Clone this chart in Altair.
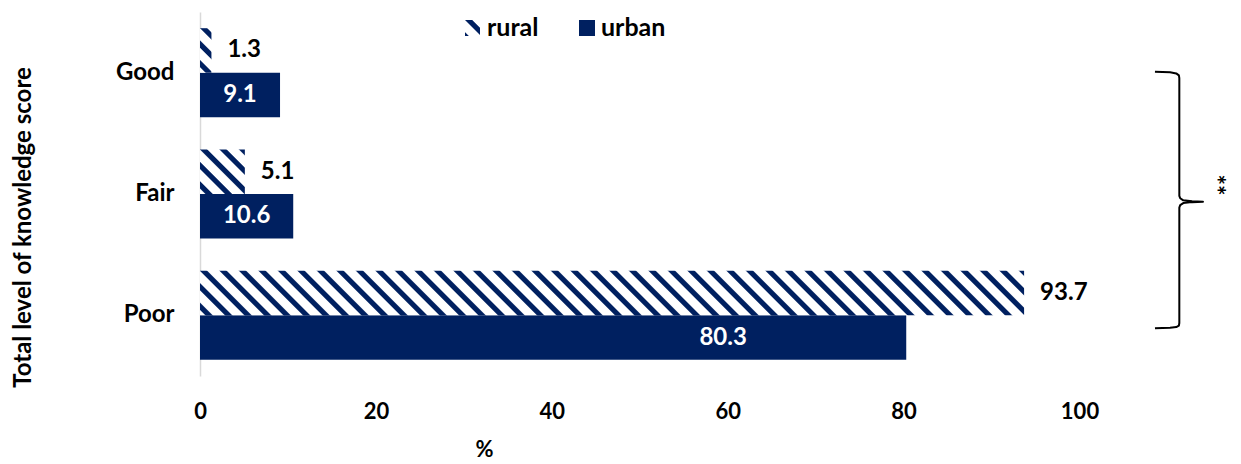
import math
import altair as alt
import pandas as pd

# ---------------- data ----------------
categories = ["Good", "Fair", "Poor"]
series = ["rural", "urban"]
rural = [1.3, 5.1, 93.7]
urban = [9.1, 10.6, 80.3]
x_ticks = [0, 20, 40, 60, 80, 100]

# brace annotation (x in % units, y in category-step units from top)
brace_x = [108.58, 110.3, 111.0, 111.3, 111.35, 111.35, 111.45, 111.8, 112.8, 114.04,
           112.8, 111.8, 111.45, 111.35, 111.35, 111.3, 111.0, 110.3, 108.58]
brace_y = [0.492, 0.496, 0.506, 0.522, 0.545, 1.515, 1.535, 1.552, 1.560, 1.5635,
           1.567, 1.575, 1.592, 1.612, 2.563, 2.585, 2.597, 2.603, 2.606]
sig_x = [116.77]
sig_y = [1.426]
sig_text = ["**"]

# ---------------- style ----------------
NAVY = "#002060"
WHITE = "#ffffff"
FONT = "Lato"
W = 879.5
H = 364
PX = W / 100.0
STEP = H / 3.0
PAD_INNER = 0.267
BAR_H = STEP * (1 - PAD_INNER) / 2.0


def hatch(w, h, period=19.5, dark=7.3, soft=0.7):
    """Diagonal (down-right) stripes as a linear gradient in bounding-box units."""
    span = w + h

    def t(s):
        return min(max((s + h) / span, 0.0), 1.0)

    stops = []
    k0 = math.floor((-h - dark) / period) - 1
    k1 = math.ceil(w / period) + 1
    for k in range(k0, k1 + 1):
        a = k * period
        b = a + dark
        stops += [(t(a - soft), WHITE), (t(a + soft), NAVY),
                  (t(b - soft), NAVY), (t(b + soft), WHITE)]
    c = (w + h) / (w * w + h * h)
    return alt.LinearGradient(
        gradient="linear",
        stops=[alt.GradientStop(offset=round(o, 6), color=col) for o, col in stops],
        x1=0, y1=1, x2=c * w, y2=1 - c * h,
    )


rows = [{"category": c, "series": "rural", "value": v} for c, v in zip(categories, rural)]
rows += [{"category": c, "series": "urban", "value": v} for c, v in zip(categories, urban)]
df = pd.DataFrame(rows)

x_axis = alt.Axis(
    values=x_ticks, domain=False, ticks=False, tickSize=0, grid=False,
    labelFont=FONT, labelFontWeight="bold", labelFontSize=22, labelColor="black",
    labelPadding=25, labelFlush=False, labelOverlap=False,
    title="%", titleFont=FONT, titleFontWeight="bold", titleFontSize=22, titleColor="black",
    titleX=284, titleY=73, titleAlign="center", titleBaseline="middle",
)
x_scale = alt.Scale(domain=[0, 100], nice=False, zero=True)

y_axis = alt.Axis(
    domain=True, domainColor="#d9d9d9", domainWidth=1.5, ticks=False, tickSize=0, grid=False,
    labelFont=FONT, labelFontWeight="bold", labelFontSize=24, labelColor="black", labelPadding=26,
    title="Total level of knowledge score", titleFont=FONT, titleFontWeight="bold",
    titleFontSize=24, titleColor="black", titleAngle=270, titleX=-177, titleY=215,
    titleAlign="center", titleBaseline="middle",
)

base = alt.Chart(df).encode(
    y=alt.Y("category:N", scale=alt.Scale(domain=categories, paddingInner=PAD_INNER,
                                          paddingOuter=PAD_INNER / 2), axis=y_axis),
    yOffset=alt.YOffset("series:N", scale=alt.Scale(domain=series, paddingInner=0, paddingOuter=0)),
    x=alt.X("value:Q", scale=x_scale, axis=x_axis),
)

urban_bars = base.transform_filter(alt.datum.series == "urban").mark_bar(color=NAVY)

rural_bars = [
    base.transform_filter((alt.datum.series == "rural") & (alt.datum.category == c))
    .mark_bar(fill=hatch(v * PX, BAR_H), strokeWidth=0)
    for c, v in zip(categories, rural)
]

text_style = dict(font=FONT, fontWeight="bold", fontSize=24, baseline="middle")

rural_labels = base.transform_filter(alt.datum.series == "rural").mark_text(
    align="left", dx=16, color="black", **text_style
).encode(text=alt.Text("value:Q", format=".1f"))

urban_labels = base.transform_filter(
    (alt.datum.series == "urban") & (alt.datum.category != "Poor")
).transform_calculate(mid="datum.value / 2").mark_text(
    align="center", color="white", **text_style
).encode(x=alt.X("mid:Q", scale=x_scale, axis=x_axis),
         text=alt.Text("value:Q", format=".1f"))

urban_label_poor = base.transform_filter(
    (alt.datum.series == "urban") & (alt.datum.category == "Poor")
).transform_calculate(mid="datum.value / 2").mark_text(
    align="center", color="white", dx=170, **text_style
).encode(x=alt.X("mid:Q", scale=x_scale, axis=x_axis),
         text=alt.Text("value:Q", format=".1f"))

# legend (manual, top centre)
leg_style = dict(font=FONT, fontWeight="bold", fontSize=25, baseline="middle")
leg = alt.Chart(pd.DataFrame({"series": ["rural"]}))
leg_rural_sym = leg.mark_rect(fill=hatch(15, 16, period=19.5, dark=7.3)).encode(
    x=alt.value(265), x2=alt.value(280), y=alt.value(8), y2=alt.value(24))
leg_urban_sym = leg.mark_rect(fill=NAVY).encode(
    x=alt.value(379), x2=alt.value(395), y=alt.value(8), y2=alt.value(24))
leg_rural_txt = leg.mark_text(align="left", color="black", **leg_style).encode(
    x=alt.value(287), y=alt.value(16), text=alt.value("rural"))
leg_urban_txt = leg.mark_text(align="left", color="black", **leg_style).encode(
    x=alt.value(401), y=alt.value(16), text=alt.value("urban"))

main = alt.layer(urban_bars, *rural_bars, rural_labels, urban_labels, urban_label_poor,
                 leg_rural_sym, leg_urban_sym, leg_rural_txt, leg_urban_txt)

# brace + significance
bdf = pd.DataFrame({"value": brace_x, "pos": brace_y, "order": list(range(len(brace_x)))})
brace_scale = alt.Scale(domain=[0, 3], reverse=True, nice=False, zero=False)
brace = alt.Chart(bdf).mark_line(color="black", strokeWidth=2, strokeJoin="round").encode(
    x=alt.X("value:Q", scale=x_scale, axis=x_axis),
    y=alt.Y("pos:Q", scale=brace_scale, axis=None),
    order="order:Q",
)
sdf = pd.DataFrame({"value": sig_x, "pos": sig_y, "t": sig_text})
sig = alt.Chart(sdf).mark_text(angle=90, font=FONT, fontWeight="bold", fontSize=25,
                               color="black", align="center", baseline="top").encode(
    x=alt.X("value:Q", scale=x_scale, axis=x_axis),
    y=alt.Y("pos:Q", scale=brace_scale, axis=None),
    text="t:N",
)
annot = alt.layer(brace, sig)

chart = alt.layer(main, annot).resolve_scale(y="independent").properties(
    width=W, height=H,
    autosize=alt.AutoSizeParams(type="none"),
    padding={"left": 192, "top": 4, "right": 153, "bottom": 88},
    background="white",
).configure_view(strokeWidth=0)

chart.save("out.html", embed_options={"renderer": "svg", "actions": False})
